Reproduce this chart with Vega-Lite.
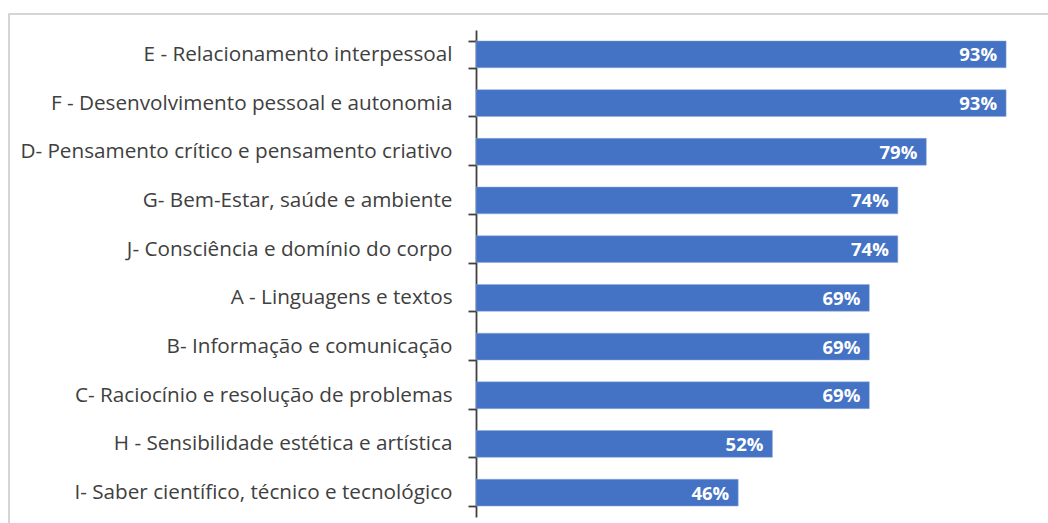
{
  "$schema": "https://vega.github.io/schema/vega-lite/v6.json",
  "autosize": "none",
  "width": 1045,
  "height": 515,
  "padding": {"left": 9, "top": 14, "right": 0, "bottom": 0},
  "background": "white",
  "config": {"view": {"stroke": "#c8c8c8", "strokeWidth": 1.5}},
  "data": {
    "values": [
      {"cat": "E - Relacionamento interpessoal", "v": 0.93},
      {"cat": "F - Desenvolvimento pessoal e autonomia", "v": 0.93},
      {"cat": "D- Pensamento crítico e pensamento criativo", "v": 0.79},
      {"cat": "G- Bem-Estar, saúde e ambiente", "v": 0.74},
      {"cat": "J- Consciência e domínio do corpo", "v": 0.74},
      {"cat": "A - Linguagens e textos", "v": 0.69},
      {"cat": "B- Informação e comunicação", "v": 0.69},
      {"cat": "C- Raciocínio e resolução de problemas", "v": 0.69},
      {"cat": "H - Sensibilidade estética e artística", "v": 0.52},
      {"cat": "I- Saber científico, técnico e tecnológico", "v": 0.46}
    ]
  },
  "encoding": {
    "y": {
      "field": "cat",
      "type": "nominal",
      "sort": null,
      "title": null,
      "scale": {"range": [16, 503], "paddingInner": 0.45, "paddingOuter": 0.225},
      "axis": {
        "offset": -467,
        "ticks": true,
        "tickBand": "extent",
        "tickColor": "#404040",
        "tickWidth": 1.8,
        "tickSize": 8,
        "domainColor": "#404040",
        "domainWidth": 1.8,
        "labelPadding": 16,
        "labelFont": "Open Sans",
        "labelFontSize": 20.7,
        "labelColor": "#404040",
        "labelLimit": 600
      }
    },
    "x": {
      "field": "v",
      "type": "quantitative",
      "scale": {"domain": [-0.8193, 1.014], "zero": false, "nice": false},
      "axis": null
    }
  },
  "layer": [
    {"mark": {"type": "bar", "color": "#4472C4", "stroke": "#8eaadb", "strokeWidth": 0.5}},
    {
      "mark": {"type": "text", "align": "right", "dx": -9, "dy": 1, "font": "Open Sans", "fontSize": 18.5, "fontWeight": "bold", "color": "white"},
      "encoding": {"text": {"field": "v", "type": "quantitative", "format": ".0%"}}
    }
  ]
}
